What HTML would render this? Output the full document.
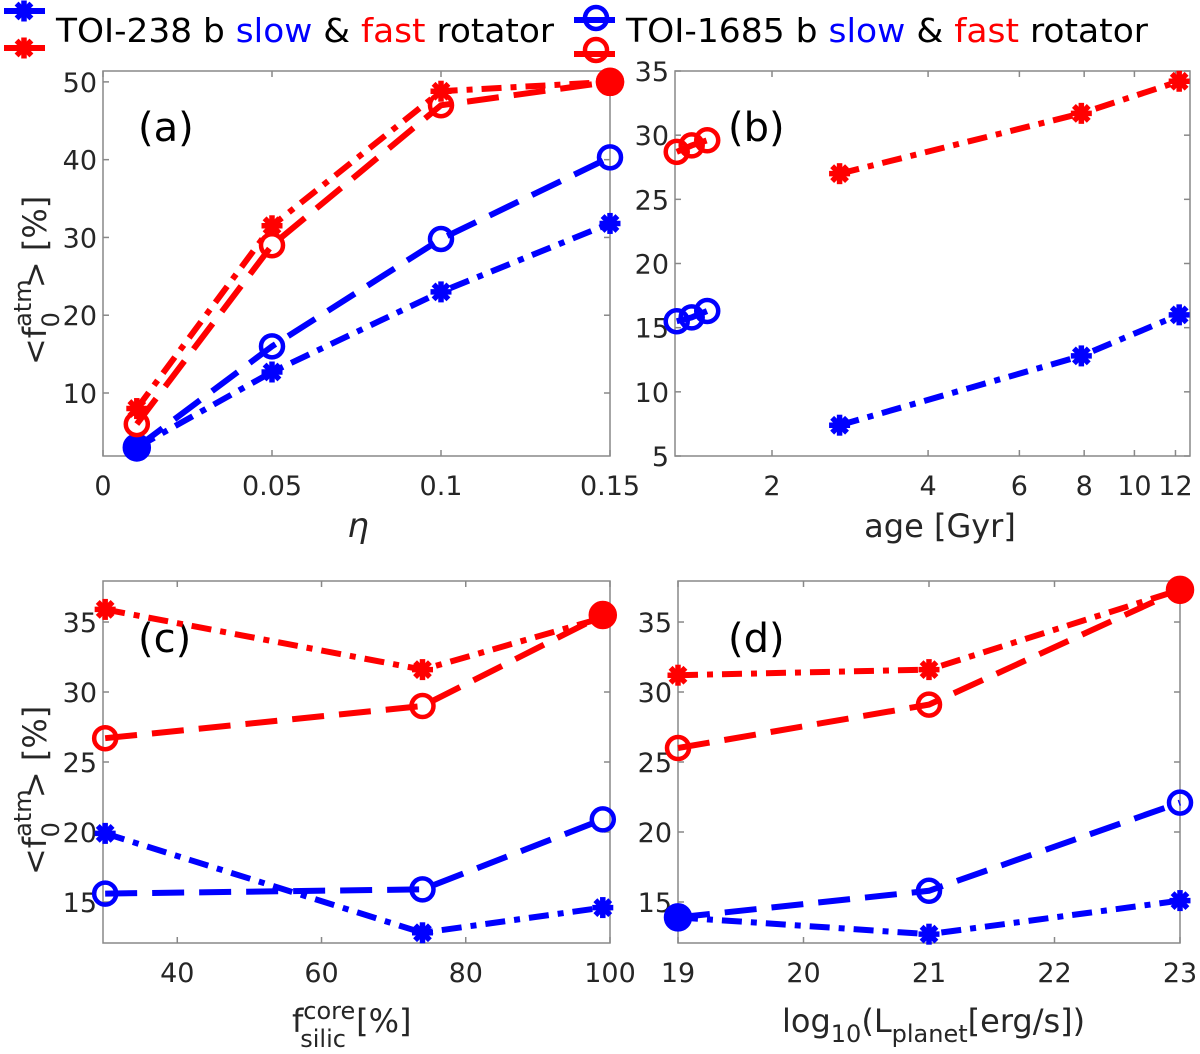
<!DOCTYPE html>
<html><head><meta charset="utf-8"><style>
body{margin:0;background:#fff;}
svg{display:block;font-family:"DejaVu Sans","Liberation Sans",sans-serif;}
</style></head><body>
<svg id="fig" width="1200" height="1054" viewBox="0 0 1200 1054" xmlns="http://www.w3.org/2000/svg">
<g id="legend">
  <g>
    <line x1="4" y1="11" x2="45" y2="11" stroke="#0000ff" stroke-width="6"/>
    <line x1="4" y1="48" x2="45" y2="48" stroke="#ff0000" stroke-width="6"/>
    <g id="lg1"></g>
    <text x="56" y="42" font-size="33" textLength="498" lengthAdjust="spacingAndGlyphs" fill="#000">TOI-238 b <tspan fill="#0000ff">slow</tspan> &amp; <tspan fill="#ff0000">fast</tspan> rotator</text>
  </g>
  <g>
    <line x1="574" y1="20" x2="615" y2="20" stroke="#0000ff" stroke-width="6"/>
    <line x1="574" y1="54" x2="615" y2="54" stroke="#ff0000" stroke-width="6"/>
    <circle cx="596" cy="18" r="11" fill="none" stroke="#0000ff" stroke-width="4.5"/>
    <circle cx="596" cy="50" r="11" fill="none" stroke="#ff0000" stroke-width="4.5"/>
    <text x="626" y="42" font-size="33" textLength="522" lengthAdjust="spacingAndGlyphs" fill="#000">TOI-1685 b <tspan fill="#0000ff">slow</tspan> &amp; <tspan fill="#ff0000">fast</tspan> rotator</text>
  </g>
</g>
<g id="panels"></g>
</svg>
<script>
// ---------- data ----------
const aX = [0.01, 0.05, 0.1, 0.15];
const a238slow = [3, 12.7, 23, 31.8];
const a238fast = [8, 31.5, 48.8, 50];
const a1685slow = [3, 16, 29.8, 40.3];
const a1685fast = [6, 29, 47, 50];

const b238X = [2.7, 7.9, 12.2];
const b1685X = [1.31, 1.4, 1.5];
const b238slow = [7.4, 12.8, 16.0];
const b238fast = [27.0, 31.7, 34.2];
const b1685slow = [15.5, 15.8, 16.3];
const b1685fast = [28.7, 29.2, 29.6];

const cX = [30, 74, 99];
const c238slow = [19.9, 12.8, 14.6];
const c238fast = [35.9, 31.6, 35.3];
const c1685slow = [15.6, 15.9, 20.9];
const c1685fast = [26.7, 29.0, 35.5];

const dX = [19, 21, 23];
const d238slow = [13.9, 12.7, 15.1];
const d238fast = [31.2, 31.6, 37.3];
const d1685slow = [13.9, 15.8, 22.1];
const d1685fast = [26.0, 29.1, 37.3];

const aXTicks = [0, 0.05, 0.1, 0.15];
const aXTickLabels = ["0", "0.05", "0.1", "0.15"];
const aYTicks = [10, 20, 30, 40, 50];
const bXTicks = [2, 4, 6, 8, 10, 12];
const bYTicks = [5, 10, 15, 20, 25, 30, 35];
const cXTicks = [40, 60, 80, 100];
const cYTicks = [15, 20, 25, 30, 35];
const dXTicks = [19, 20, 21, 22, 23];
const dYTicks = [15, 20, 25, 30, 35];

// ---------- helpers ----------
const NS = "http://www.w3.org/2000/svg";
const root = document.getElementById('panels');
function mk(tag, attrs, parent){
  const e = document.createElementNS(NS, tag);
  for (const k in attrs) e.setAttribute(k, attrs[k]);
  (parent||root).appendChild(e);
  return e;
}
function star(g, x, y, col){
  const r = 10.5;
  for (let i=0;i<4;i++){
    const an = i*Math.PI/4;
    mk('line',{x1:x-r*Math.cos(an),y1:y-r*Math.sin(an),x2:x+r*Math.cos(an),y2:y+r*Math.sin(an),stroke:col,'stroke-width':5.5},g);
  }
}
function circ(g, x, y, col, filled){
  mk('circle',{cx:x,cy:y,r:filled?12:11,fill:filled?col:'none',stroke:col,'stroke-width':4.5},g);
}
const DASHDOT = "20 9 6 9";
const DASHED = "32 15";

function panel(cfg){
  const g = mk('g',{});
  
  
  const {L,R,T,B} = cfg;
  const sx = v => cfg.log ? L + (Math.log(v)-Math.log(cfg.x0))/(Math.log(cfg.x1)-Math.log(cfg.x0))*(R-L)
                          : L + (v-cfg.x0)/(cfg.x1-cfg.x0)*(R-L);
  const sy = v => B - (v-cfg.y0)/(cfg.y1-cfg.y0)*(B-T);
  const box = mk('rect',{x:L,y:T,width:R-L,height:B-T,fill:'none',stroke:'#888','stroke-width':1.5},g);
  
  
  const xa = mk('g',{},g);
  
  
  cfg.xt.forEach((t,i)=>{
    const x = sx(t);
    mk('line',{x1:x,y1:B,x2:x,y2:B-6,stroke:'#888','stroke-width':1.5},xa);
    mk('line',{x1:x,y1:T,x2:x,y2:T+6,stroke:'#888','stroke-width':1.5},xa);
    const tx = mk('text',{x:x,y:B+39,'font-size':27,fill:'#262626','text-anchor':'middle'},xa);
    tx.textContent = cfg.xl ? cfg.xl[i] : String(t);
  });
  const ya = mk('g',{},g);
  
  
  cfg.yt.forEach(t=>{
    const y = sy(t);
    mk('line',{x1:L,y1:y,x2:L+6,y2:y,stroke:'#888','stroke-width':1.5},ya);
    mk('line',{x1:R,y1:y,x2:R-6,y2:y,stroke:'#888','stroke-width':1.5},ya);
    const tx = mk('text',{x:L-6,y:y+10,'font-size':27,fill:'#262626','text-anchor':'end'},ya);
    tx.textContent = String(t);
  });
  const lab = mk('text',{x:cfg.lx,y:cfg.ly,'font-size':40,fill:'#000'},g);
  
  
  lab.textContent = cfg.label;
  cfg.series.forEach(s=>{
    const sg = mk('g',{},g);
    
    
    const pts = s.x.map((xv,i)=>sx(xv)+','+sy(s.y[i])).join(' ');
    mk('polyline',{points:pts,fill:'none',stroke:s.col,'stroke-width':6,'stroke-dasharray':s.dash},sg);
    s.x.forEach((xv,i)=>{
      const filled = s.filled && s.filled.includes(i);
      if (filled) circ(sg, sx(xv), sy(s.y[i]), s.col, true);
      else if (s.mk==='star') star(sg, sx(xv), sy(s.y[i]), s.col);
      else circ(sg, sx(xv), sy(s.y[i]), s.col, false);
    });
  });
  return g;
}
function series(name,x,y,col,m,filled){
  return {name:name,x:x,y:y,col:col,mk:m,dash:m==='star'?DASHDOT:DASHED,filled:filled};
}
const BLUE='#0000ff', RED='#ff0000';

panel({name:'panel-a',L:103,R:610,T:71,B:456,x0:0,x1:0.15,y0:1.9,y1:51.4,xt:aXTicks,xl:aXTickLabels,yt:aYTicks,label:'(a)',lx:138,ly:141,
 series:[series('toi238-slow',aX,a238slow,BLUE,'star'),series('toi1685-slow',aX,a1685slow,BLUE,'circ',[0]),
         series('toi238-fast',aX,a238fast,RED,'star',[3]),series('toi1685-fast',aX,a1685fast,RED,'circ',[3])]});
panel({name:'panel-b',L:675,R:1190,T:71,B:456,log:true,x0:1.3,x1:12.8,y0:5,y1:35,xt:bXTicks,yt:bYTicks,label:'(b)',lx:728,ly:141,
 series:[series('toi238-slow',b238X,b238slow,BLUE,'star'),series('toi238-fast',b238X,b238fast,RED,'star'),
         series('toi1685-slow',b1685X,b1685slow,BLUE,'circ'),series('toi1685-fast',b1685X,b1685fast,RED,'circ')]});
panel({name:'panel-c',L:103,R:610,T:581,B:943,x0:29.7,x1:100,y0:12.07,y1:37.93,xt:cXTicks,yt:cYTicks,label:'(c)',lx:138,ly:652,
 series:[series('toi238-slow',cX,c238slow,BLUE,'star'),series('toi1685-slow',cX,c1685slow,BLUE,'circ'),
         series('toi238-fast',cX,c238fast,RED,'star'),series('toi1685-fast',cX,c1685fast,RED,'circ',[2])]});
panel({name:'panel-d',L:678,R:1180,T:581,B:943,x0:19,x1:23,y0:12.07,y1:37.93,xt:dXTicks,yt:dYTicks,label:'(d)',lx:728,ly:652,
 series:[series('toi238-slow',dX,d238slow,BLUE,'star'),series('toi1685-slow',dX,d1685slow,BLUE,'circ',[0]),
         series('toi238-fast',dX,d238fast,RED,'star'),series('toi1685-fast',dX,d1685fast,RED,'circ',[2])]});

// legend stars
const lg = document.getElementById('lg1');
star(lg, 24, 11, BLUE);
star(lg, 24, 48, RED);

// axis titles
function txt(html, attrs, name){
  const t = mk('text', attrs);
  
  
  t.innerHTML = html;
  return t;
}
const ylab = '&lt;f<tspan font-size="24" dy="-15">atm</tspan><tspan font-size="24" dx="-48" dy="28">0</tspan><tspan dx="24" dy="-13">&gt; [%]</tspan>';
txt(ylab,{x:0,y:0,'font-size':32,fill:'#262626',transform:'translate(46,365) rotate(-90)'},'y-axis-title-top');
txt(ylab,{x:0,y:0,'font-size':32,fill:'#262626',transform:'translate(46,875) rotate(-90)'},'y-axis-title-bottom');
txt('η',{x:358,y:537,'font-size':34,fill:'#262626','font-style':'italic','text-anchor':'middle'},'x-axis-title-a');
txt('age [Gyr]',{x:940,y:537,'font-size':32,fill:'#262626','text-anchor':'middle'},'x-axis-title-b');
txt('f<tspan font-size="24" dy="-13">core</tspan><tspan font-size="24" dx="-55" dy="28">silic</tspan><tspan dy="-15"> [%]</tspan>',{x:292,y:1032,'font-size':32,fill:'#262626'},'x-axis-title-c');
txt('log<tspan font-size="24" dy="10">10</tspan><tspan dy="-10">(L</tspan><tspan font-size="24" dy="10">planet</tspan><tspan dy="-10">[erg/s])</tspan>',{x:782,y:1032,'font-size':32,fill:'#262626'},'x-axis-title-d');
</script>
</body></html>
